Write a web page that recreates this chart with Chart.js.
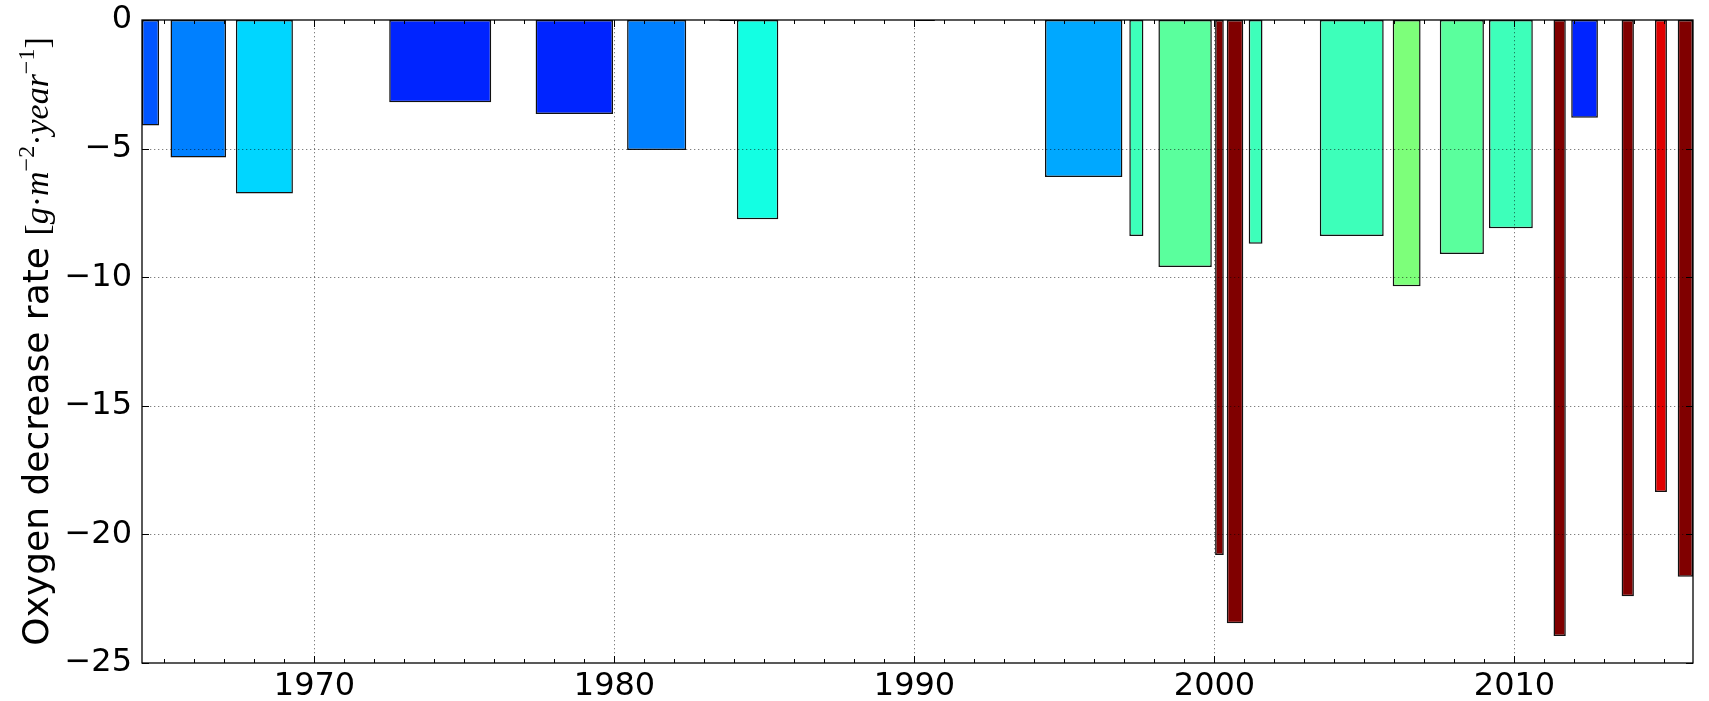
<!DOCTYPE html>
<html>
<head>
<meta charset="utf-8">
<script src="https://cdn.jsdelivr.net/npm/chart.js@4/dist/chart.umd.min.js"></script>
<style>
  html, body { margin: 0; padding: 0; background: #ffffff; }
  canvas { display: block; }
</style>
</head>
<body>
<canvas id="chart" width="1709" height="701"></canvas>
<script>
// Low-oxygen episodes: start and end (decimal years) and the oxygen decrease rate over each one
const barStart = [1964.25, 1965.20, 1967.38, 1972.49, 1977.37, 1980.42, 1983.50, 1984.08, 1990.03,
                  1994.35, 1997.16, 1998.13, 2000.02, 2000.41, 2001.14, 2003.51, 2005.94, 2007.51,
                  2009.15, 2011.30, 2011.89, 2013.57, 2014.68, 2015.44];
const barEnd   = [1964.82, 1967.05, 1969.28, 1975.89, 1979.95, 1982.39, 1984.08, 1985.46, 1990.68,
                  1996.93, 1997.63, 1999.91, 2000.31, 2000.96, 2001.60, 2005.64, 2006.87, 2008.98,
                  2010.61, 2011.71, 2012.78, 2013.98, 2015.08, 2015.95];
const rate     = [-4.1, -5.35, -6.75, -3.2, -3.65, -5.05, -0.04, -7.75, -0.04,
                  -6.1, -8.4, -9.6, -20.8, -23.45, -8.7, -8.4, -10.35, -9.1,
                  -8.1, -23.95, -3.8, -22.4, -18.35, -21.65];
// jet colour of each bar
const barColors = ['#0055ff', '#0080ff', '#00d6ff', '#0024ff', '#0024ff', '#0080ff', '#000090', '#13ffe3', '#000090',
                   '#00a8ff', '#3dffba', '#5aff9d', '#800000', '#800000', '#3dffba', '#3dffba', '#7dff7a', '#5aff9d',
                   '#3dffba', '#800000', '#0024ff', '#800000', '#e00000', '#800000'];

const xRange = [1964.25, 2015.95];
const yRange = [-25, 0];
const xStep = 10;
const yStep = 5;

const TICK_FONT = { family: 'DejaVu Sans', size: 32 };
const minusSign = v => (v < 0 ? '\u2212' + Math.abs(v) : String(v));

// Each bar spans its own [start, end] interval on the time axis
const spanBars = {
  id: 'spanBars',
  afterDatasetsUpdate(chart) {
    const xs = chart.scales.x;
    chart.getDatasetMeta(0).data.forEach((el, i) => {
      const l = xs.getPixelForValue(barStart[i]);
      const r = xs.getPixelForValue(barEnd[i]);
      el.x = (l + r) / 2;
      el.width = r - l;
    });
  }
};

// Dotted grid over the bars, inward ticks on all four sides, black frame
const axesDecor = {
  id: 'axesDecor',
  afterDatasetsDraw(chart) {
    const { ctx, chartArea: a, scales: { x, y } } = chart;
    const seg = (x1, y1, x2, y2) => { ctx.beginPath(); ctx.moveTo(x1, y1); ctx.lineTo(x2, y2); ctx.stroke(); };
    ctx.save();
    ctx.strokeStyle = 'rgba(0,0,0,0.5)';
    ctx.lineWidth = 1;
    ctx.setLineDash([1.3, 2.7]);
    x.ticks.forEach(t => {
      const px = Math.round(x.getPixelForValue(t.value)) + 0.5;
      seg(px, a.top, px, a.bottom);
    });
    y.ticks.forEach(t => {
      if (t.value <= y.min || t.value >= y.max) return;
      const py = Math.round(y.getPixelForValue(t.value)) + 0.5;
      seg(a.left, py, a.right, py);
    });
    ctx.setLineDash([]);
    ctx.strokeStyle = '#000';
    ctx.lineWidth = 1;
    for (let yr = Math.ceil(x.min); yr <= x.max; yr++) {
      const px = Math.round(x.getPixelForValue(yr)) + 0.5;
      const len = yr % xStep === 0 ? 7 : 4;
      seg(px, a.bottom, px, a.bottom - len);
      seg(px, a.top, px, a.top + len);
    }
    y.ticks.forEach(t => {
      const py = Math.round(y.getPixelForValue(t.value)) + 0.5;
      seg(a.left, py, a.left + 7, py);
      seg(a.right, py, a.right - 7, py);
    });
    ctx.lineWidth = 1.3;
    ctx.strokeRect(a.left, a.top, a.right - a.left, a.bottom - a.top);
    ctx.restore();
  }
};

// Y-axis title with superscripted unit
const yTitle = {
  id: 'yTitle',
  afterDraw(chart) {
    const { ctx, chartArea: a } = chart;
    const serif = '"Liberation Serif", "DejaVu Serif", serif';
    const parts = [
      { t: 'Oxygen decrease rate ', f: '36px "DejaVu Sans"' },
      { t: '[', f: '34px ' + serif },
      { t: 'g', f: 'italic 34px ' + serif },
      { t: '\u00b7', f: '34px ' + serif },
      { t: 'm', f: 'italic 34px ' + serif },
      { t: '\u22122', f: '24px ' + serif, rise: 14 },
      { t: '\u00b7', f: '34px ' + serif },
      { t: 'year', f: 'italic 34px ' + serif },
      { t: '\u22121', f: '24px ' + serif, rise: 14 },
      { t: ']', f: '34px ' + serif }
    ];
    ctx.save();
    let total = 0;
    parts.forEach(p => { ctx.font = p.f; p.w = ctx.measureText(p.t).width; total += p.w; });
    ctx.translate(48, (a.top + a.bottom) / 2);
    ctx.rotate(-Math.PI / 2);
    ctx.fillStyle = '#000';
    ctx.textBaseline = 'alphabetic';
    ctx.textAlign = 'left';
    let cx = -total / 2;
    parts.forEach(p => {
      ctx.font = p.f;
      ctx.fillText(p.t, cx, -(p.rise || 0));
      cx += p.w;
    });
    ctx.restore();
  }
};

new Chart(document.getElementById('chart'), {
  type: 'bar',
  data: {
    datasets: [{
      data: rate.map((v, i) => ({ x: (barStart[i] + barEnd[i]) / 2, y: v })),
      backgroundColor: barColors,
      borderColor: '#111111',
      borderWidth: 1.5,
      borderSkipped: false
    }]
  },
  options: {
    responsive: false,
    animation: false,
    devicePixelRatio: 1,
    layout: { padding: { top: 20, right: 16, bottom: 0, left: 0 } },
    plugins: { legend: { display: false }, tooltip: { enabled: false } },
    scales: {
      x: {
        type: 'linear',
        offset: false,
        min: xRange[0],
        max: xRange[1],
        grid: { display: false, drawTicks: false },
        border: { display: false },
        ticks: {
          stepSize: xStep,
          includeBounds: false,
          autoSkip: false,
          maxRotation: 0,
          padding: 4,
          color: '#000',
          font: TICK_FONT,
          callback: v => String(v)
        },
        afterFit(scale) { scale.height = 38; }
      },
      y: {
        min: yRange[0],
        max: yRange[1],
        grid: { display: false, drawTicks: false },
        border: { display: false },
        ticks: {
          stepSize: yStep,
          padding: 10,
          color: '#000',
          font: { family: 'DejaVu Sans', size: 32, lineHeight: 0.6 },
          callback: minusSign
        },
        afterFit(scale) { scale.width = 142; }
      }
    }
  },
  plugins: [spanBars, axesDecor, yTitle]
});
</script>
</body>
</html>
